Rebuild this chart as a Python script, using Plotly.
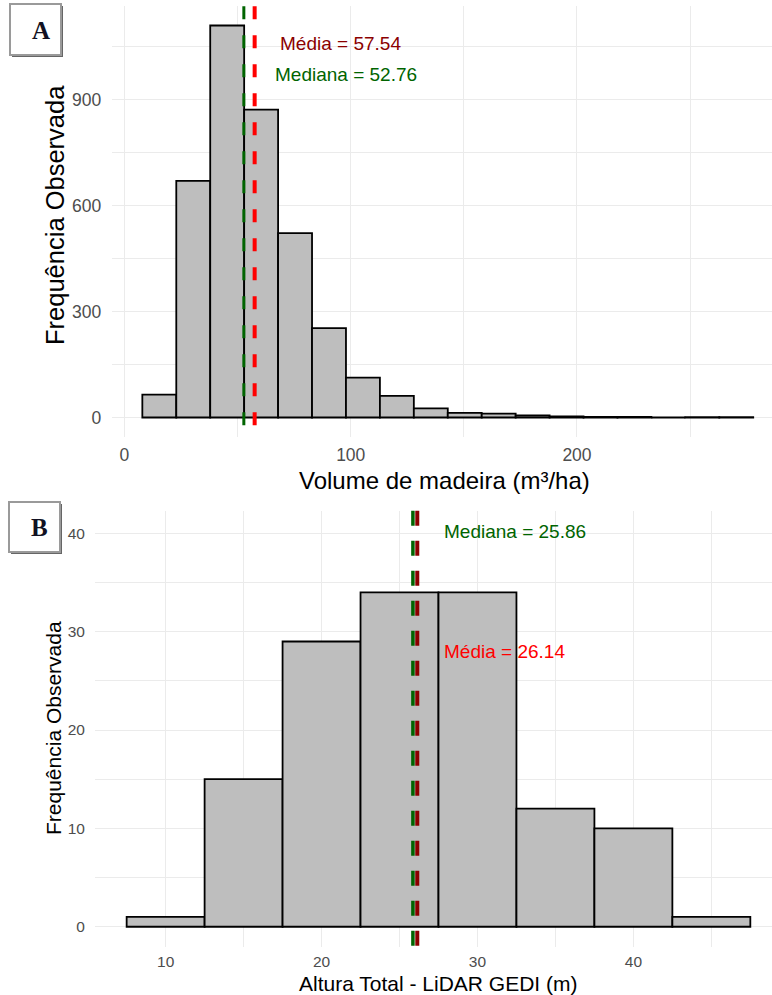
import plotly.graph_objects as go

# ---------------- data ----------------
vol_bin_start = 7.9
vol_bin_width = 15
vol_counts = [65, 670, 1110, 872, 522, 253, 113, 61, 26, 13, 11, 6, 3, 2, 2, 0, 1, 1]
vol_mean = 57.54
vol_median = 52.76
vol_xticks = [0, 100, 200]
vol_xminor = [50, 150, 250]
vol_yticks = [0, 300, 600, 900]
vol_yminor = [150, 450, 750, 1050]

alt_bin_centers = [10, 15, 20, 25, 30, 35, 40, 45]
alt_bin_width = 5
alt_counts = [1, 15, 29, 34, 34, 12, 10, 1]
alt_mean = 26.14
alt_median = 25.86
alt_xticks = [10, 20, 30, 40]
alt_xminor = [15, 25, 35, 45]
alt_yticks = [0, 10, 20, 30, 40]
alt_yminor = [5, 15, 25, 35]

W, H = 772, 995
def px(x):
    return x / W
def py(y):
    return 1 - y / H

FONT = "Liberation Sans, Arial, sans-serif"
GRID = "#EBEBEB"
TICKC = "#4D4D4D"
DKGREEN = "#006400"
DKRED = "#8B0000"
RED = "#FF0000"

fig = go.Figure()
vol_centers = [vol_bin_start + vol_bin_width * (i + 0.5) for i in range(len(vol_counts))]
fig.add_trace(go.Bar(x=vol_centers, y=vol_counts, width=vol_bin_width,
                     marker=dict(color="#BEBEBE", line=dict(color="black", width=1.8)),
                     xaxis="x", yaxis="y", showlegend=False, hoverinfo="skip"))
fig.add_trace(go.Bar(x=alt_bin_centers, y=alt_counts, width=alt_bin_width,
                     marker=dict(color="#BEBEBE", line=dict(color="black", width=1.8)),
                     xaxis="x2", yaxis="y2", showlegend=False, hoverinfo="skip"))

def axis(domain, rng, ticks, minor, fs, anchor, tl):
    return dict(domain=domain, range=rng, anchor=anchor, tickvals=ticks,
                showgrid=True, gridcolor=GRID, gridwidth=1.3,
                minor=dict(tickvals=minor, showgrid=True, gridcolor=GRID, gridwidth=0.8),
                zeroline=False, showline=False, ticks="outside", ticklen=tl,
                tickcolor="rgba(0,0,0,0)", tickfont=dict(size=fs, color=TICKC, family=FONT),
                fixedrange=True)

fig.update_layout(
    width=W, height=H, autosize=False,
    margin=dict(l=0, r=0, t=0, b=0),
    paper_bgcolor="white", plot_bgcolor="white",
    font=dict(family=FONT),
    xaxis=axis([px(111.8), 1], [-5.6, 286.2], vol_xticks, vol_xminor, 17.5, "y", 2),
    yaxis=axis([py(437.1), py(6.3)], [-55.45, 1164.4], vol_yticks, vol_yminor, 17.5, "x", 6),
    xaxis2=axis([px(95), 1], [5.47, 48.89], alt_xticks, alt_xminor, 15.5, "y2", 1),
    yaxis2=axis([py(946.7), py(510.7)], [-2.03, 42.3], alt_yticks, alt_yminor, 15.5, "x2", 6),
)

shapes = []
# vertical lines panel A
shapes.append(dict(type="line", xref="x", yref="y domain", x0=vol_mean, x1=vol_mean, y0=1, y1=0,
                   line=dict(color=RED, width=4, dash="13px,16px")))
shapes.append(dict(type="line", xref="x", yref="y domain", x0=vol_median, x1=vol_median, y0=1, y1=0,
                   line=dict(color=DKGREEN, width=3, dash="13px,16px")))
# vertical lines panel B
shapes.append(dict(type="line", xref="x2", yref="y2 domain", x0=alt_mean, x1=alt_mean, y0=1, y1=0,
                   line=dict(color=DKRED, width=4, dash="15px,15px")))
shapes.append(dict(type="line", xref="x2", yref="y2 domain", x0=alt_median, x1=alt_median, y0=1, y1=0,
                   line=dict(color=DKGREEN, width=3.5, dash="15px,15px")))

# panel label boxes
def label_box(x0, y0, x1, y1):
    return [
        dict(type="rect", xref="paper", yref="paper", x0=px(x0 + 2), x1=px(x1 + 2),
             y0=py(y1 + 2), y1=py(y0 + 2), line=dict(width=0), fillcolor="#666666"),
        dict(type="rect", xref="paper", yref="paper", x0=px(x0), x1=px(x1),
             y0=py(y1), y1=py(y0), line=dict(width=2, color="#9a9a9a"), fillcolor="white"),
    ]
shapes += label_box(10, 4, 61, 55)
shapes += label_box(9, 502, 60, 552)
fig.update_layout(shapes=shapes)

ann = []
# stats texts
ann.append(dict(x=95.7, y=1059, xref="x", yref="y", text="Média = 57.54", showarrow=False,
                font=dict(size=19, color=DKRED, family=FONT), xanchor="center", yanchor="middle"))
ann.append(dict(x=97.7, y=971, xref="x", yref="y", text="Mediana = 52.76", showarrow=False,
                font=dict(size=19, color=DKGREEN, family=FONT), xanchor="center", yanchor="middle"))
ann.append(dict(x=27.74, y=40.2, xref="x2", yref="y2", text="Mediana = 25.86", showarrow=False,
                font=dict(size=19, color=DKGREEN, family=FONT), xanchor="left", yanchor="middle"))
ann.append(dict(x=27.74, y=28.0, xref="x2", yref="y2", text="Média = 26.14", showarrow=False,
                font=dict(size=19, color=RED, family=FONT), xanchor="left", yanchor="middle"))
# axis titles
ann.append(dict(x=px(444), y=py(480), xref="paper", yref="paper", text="Volume de madeira (m³/ha)",
                showarrow=False, font=dict(size=24, color="black", family=FONT),
                xanchor="center", yanchor="middle"))
ann.append(dict(x=px(55), y=py(215), xref="paper", yref="paper", text="Frequência Observada",
                showarrow=False, textangle=-90, font=dict(size=25.5, color="black", family=FONT),
                xanchor="center", yanchor="middle"))
ann.append(dict(x=px(438), y=py(983), xref="paper", yref="paper", text="Altura Total - LiDAR GEDI (m)",
                showarrow=False, font=dict(size=21, color="black", family=FONT),
                xanchor="center", yanchor="middle"))
ann.append(dict(x=px(53), y=py(728), xref="paper", yref="paper", text="Frequência Observada",
                showarrow=False, textangle=-90, font=dict(size=21, color="black", family=FONT),
                xanchor="center", yanchor="middle"))
# panel letters
ann.append(dict(x=px(41), y=py(30), xref="paper", yref="paper", text="<b>A</b>", showarrow=False,
                font=dict(size=25, color="#111122", family="Liberation Serif, Times New Roman, serif"),
                xanchor="center", yanchor="middle"))
ann.append(dict(x=px(39), y=py(527), xref="paper", yref="paper", text="<b>B</b>", showarrow=False,
                font=dict(size=25, color="#111122", family="Liberation Serif, Times New Roman, serif"),
                xanchor="center", yanchor="middle"))
fig.update_layout(annotations=ann)

fig.write_html("out.html")
